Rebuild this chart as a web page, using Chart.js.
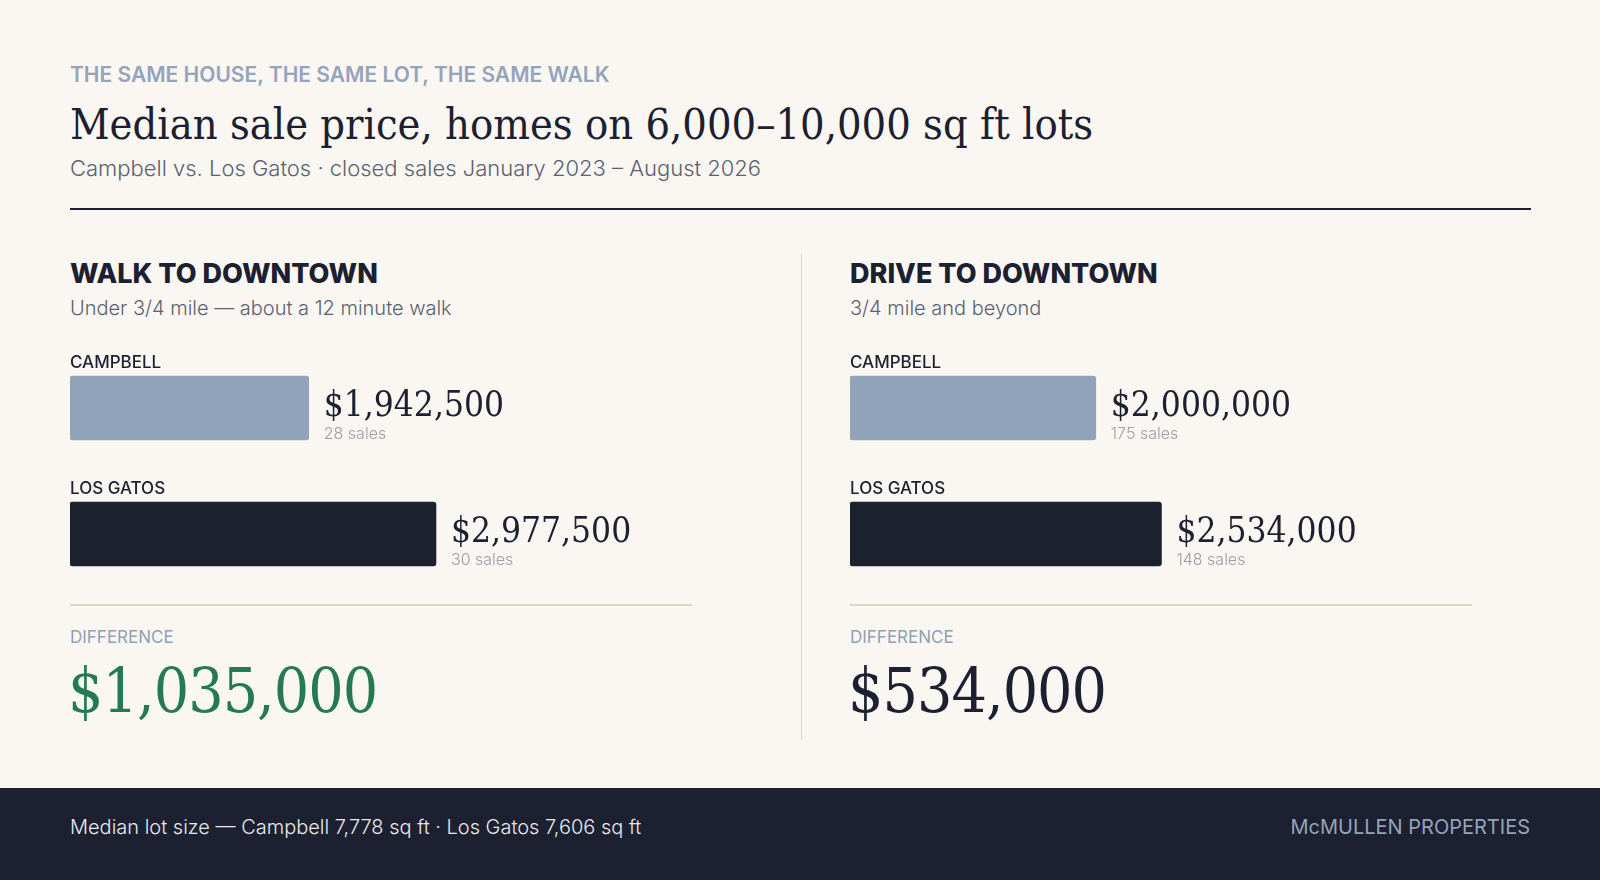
<!DOCTYPE html>
<html><head><meta charset="utf-8">
<script src="https://cdn.jsdelivr.net/npm/chart.js@4"></script>
<style>
body{margin:0;width:1600px;height:880px;background:#faf7f2;position:relative;overflow:hidden;font-family:Inter,"Noto Sans",sans-serif;color:#1c2030}
.a{position:absolute;white-space:nowrap}
.serif{font-family:"DejaVu Serif","Liberation Serif",serif;font-stretch:condensed}
</style></head><body>
<div class="a" style="left:70px;top:62px;font-size:21px;font-weight:600;color:#94a4bb">THE SAME HOUSE, THE SAME LOT, THE SAME WALK</div>
<div class="a serif" style="left:70px;top:99px;font-size:43px;color:#1c2030">Median sale price, homes on 6,000–10,000 sq ft lots</div>
<div class="a" style="left:70px;top:155px;font-size:22px;font-weight:300;color:#5b6170">Campbell vs. Los Gatos · closed sales January 2023 – August 2026</div>
<div class="a" style="left:70px;top:208px;width:1461px;height:2px;background:#1c2030"></div>
<div class="a" style="left:801px;top:254px;width:1px;height:486px;background:#ddd5c5"></div>

<div class="a" style="left:70px;top:257px;font-size:27px;font-weight:800">WALK TO DOWNTOWN</div>
<div class="a" style="left:70px;top:296px;font-size:20px;font-weight:300;color:#5b6170">Under 3/4 mile — about a 12 minute walk</div>
<div class="a" style="left:850px;top:257px;font-size:27px;font-weight:800">DRIVE TO DOWNTOWN</div>
<div class="a" style="left:850px;top:296px;font-size:20px;font-weight:300;color:#5b6170">3/4 mile and beyond</div>

<div class="a" style="left:70px;top:345px;width:660px;height:252px"><canvas id="c0"></canvas></div>
<div class="a" style="left:850px;top:345px;width:660px;height:252px"><canvas id="c1"></canvas></div>

<div class="a" style="left:70px;top:604px;width:622px;height:2px;background:#ddd5c5"></div>
<div class="a" style="left:850px;top:604px;width:622px;height:2px;background:#ddd5c5"></div>
<div class="a" style="left:70px;top:627px;font-size:17px;color:#8fa0b8">DIFFERENCE</div>
<div class="a" style="left:850px;top:627px;font-size:17px;color:#8fa0b8">DIFFERENCE</div>
<div class="a serif" id="d0" style="left:68px;top:654px;font-size:62px;color:#257a52;letter-spacing:-1px"></div>
<div class="a serif" id="d1" style="left:848px;top:654px;font-size:62px;color:#1c2030;letter-spacing:-1px"></div>

<div class="a" style="left:0;top:788px;width:1600px;height:92px;background:#1c2030"></div>
<div class="a" style="left:70px;top:815px;font-size:20px;font-weight:300;color:#e8e8ec">Median lot size — Campbell 7,778 sq ft · Los Gatos 7,606 sq ft</div>
<div class="a" style="right:70px;top:815px;font-size:20px;color:#94a4bb">McMULLEN PROPERTIES</div>
<script>
const towns = ["CAMPBELL", "LOS GATOS"];
const walkPrices = [1942500, 2977500];
const walkSales = [28, 30];
const drivePrices = [2000000, 2534000];
const driveSales = [175, 148];
const barColors = ["#91a3bb", "#1c2130"];
const fmt = v => "$" + v.toLocaleString("en-US");

const labelPlugin = {
    id: "labels",
    afterDatasetsDraw(chart)
    {
        const ctx = chart.ctx;
        const meta = chart.getDatasetMeta(0);
        const sales = chart.options.plugins.labels.sales;
        meta.data.forEach((bar, i) =>
        {
            const top = bar.y - bar.height / 2;
            ctx.save();
            ctx.fillStyle = "#1c2030";
            ctx.font = "500 17px Inter, sans-serif";
            ctx.textBaseline = "bottom";
            ctx.fillText(towns[i], 0, top - 5);
            ctx.font = "condensed 35px 'DejaVu Serif', serif";
            ctx.textBaseline = "alphabetic";
            ctx.fillText(fmt(chart.data.datasets[0].data[i]), bar.x + 15, bar.y + 8);
            ctx.font = "300 16px Inter, sans-serif";
            ctx.fillStyle = "#9a9ea8";
            ctx.fillText(sales[i] + " sales", bar.x + 15, bar.y + 31);
            ctx.restore();
        });
    }
};

function makeChart(id, prices, sales)
{
    new Chart(document.getElementById(id),
        {
            type: "bar",
            data: {
                labels: towns,
                datasets: [{
                    data: prices,
                    backgroundColor: barColors,
                    barThickness: 64,
                    borderRadius: 3,
                    borderSkipped: false
                }]
            },
            options: {
                indexAxis: "y",
                responsive: true,
                maintainAspectRatio: false,
                animation: false,
                layout: { padding: 0 },
                scales: {
                    x: { display: false, min: 0, max: 5370000 },
                    y: { display: false }
                },
                plugins: {
                    legend: { display: false },
                    tooltip: { enabled: false },
                    labels: { sales: sales }
                }
            },
            plugins: [labelPlugin]
        });
}

makeChart("c0", walkPrices, walkSales);
makeChart("c1", drivePrices, driveSales);
document.getElementById("d0").textContent = fmt(walkPrices[1] - walkPrices[0]);
document.getElementById("d1").textContent = fmt(drivePrices[1] - drivePrices[0]);
</script>
</body></html>
